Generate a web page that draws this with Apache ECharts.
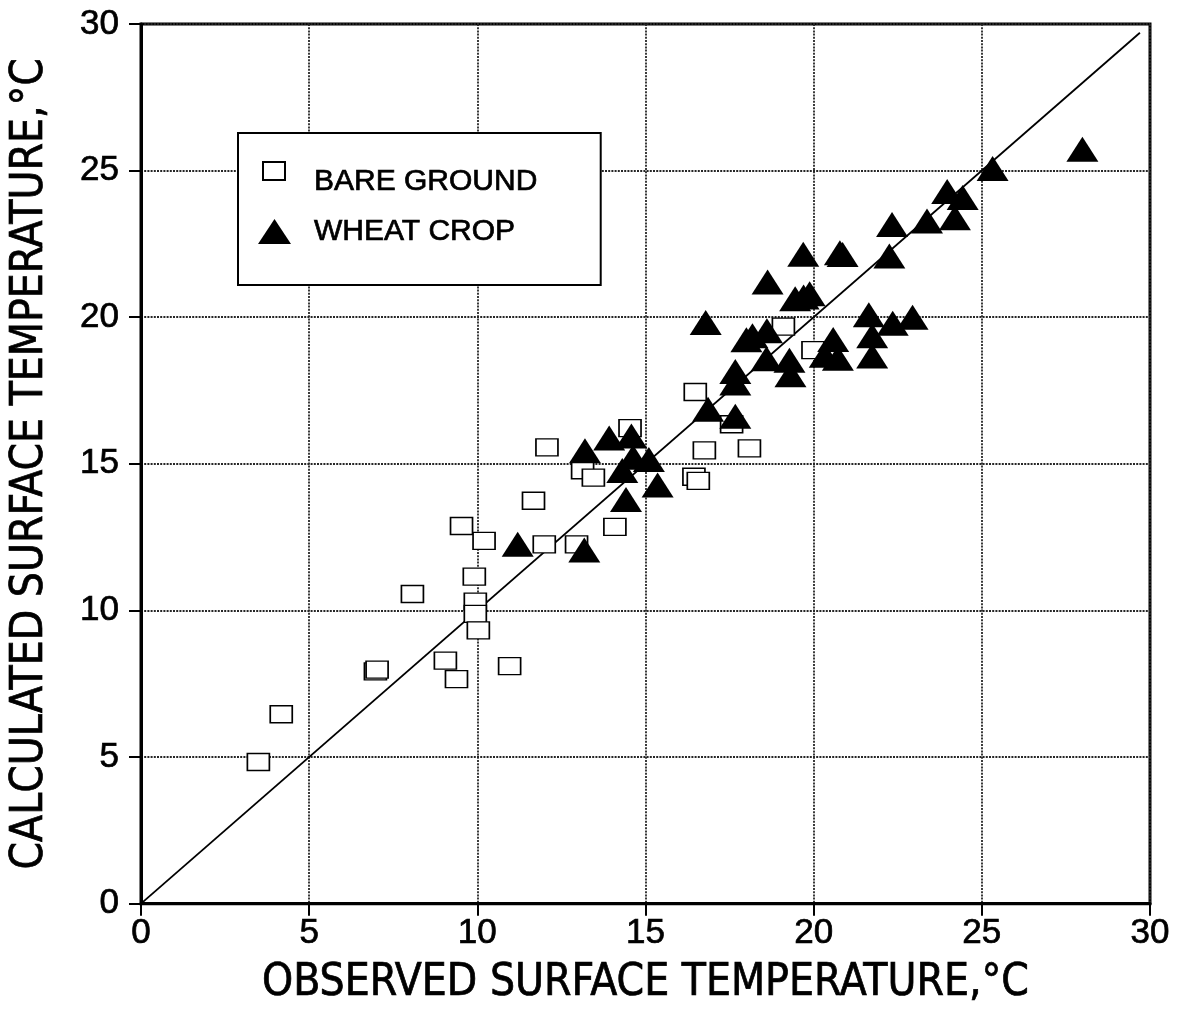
<!DOCTYPE html>
<html>
<head>
<meta charset="utf-8">
<script src="https://cdn.jsdelivr.net/npm/echarts@6/dist/echarts.min.js"></script>
<style>
html,body{margin:0;padding:0;background:#fff;}
#chart{width:1184px;height:1011px;}
</style>
</head>
<body>
<div id="chart"></div>
<script>
// Observed (x) vs calculated (y) surface temperature, °C
const bareGround = [
  [3.49,4.83],[4.17,6.46],[6.97,7.92],[7.02,7.98],[8.07,10.56],[9.05,8.29],[9.38,7.66],
  [9.53,12.88],[9.91,11.15],[9.94,10.3],[9.94,9.88],[10.03,9.32],[10.2,12.37],[10.96,8.1],
  [11.67,13.74],[11.99,12.25],[12.07,15.56],[12.95,12.25],[13.13,14.78],[13.45,14.53],
  [14.09,12.85],[14.54,16.22],[16.44,14.56],[16.57,14.42],[16.48,17.45],[16.75,15.46],
  [17.56,16.35],[18.09,15.53],[19.1,19.68],[19.98,18.88]
];
const wheatCrop = [
  [11.2,12.26],[13.18,12.06],[13.2,15.45],[13.92,15.88],[14.58,15.95],[14.63,15.22],
  [15.1,15.15],[14.31,14.77],[15.36,14.28],[14.42,13.78],[16.79,19.82],[16.86,16.86],
  [17.67,16.62],[17.67,18.15],[17.67,17.76],[18.0,19.23],[18.18,19.37],[18.61,19.54],
  [18.6,18.58],[19.28,18.53],[19.31,18.04],[18.63,21.2],[19.45,20.63],[19.7,20.69],
  [19.88,20.8],[19.69,22.15],[20.78,22.2],[20.86,22.14],[20.58,19.24],[20.33,18.7],
  [20.72,18.6],[21.64,20.08],[22.35,19.79],[22.94,20.0],[21.74,19.37],[21.74,18.68],
  [22.25,22.09],[22.33,23.16],[23.37,23.28],[24.2,23.39],[23.97,24.29],[24.43,24.08],
  [25.32,25.07],[27.99,25.73]
];
const oneToOne = [[0,0],[29.7,29.7]];
const seriesNames = ['BARE GROUND','WHEAT CROP'];
const xAxisTitle = 'OBSERVED SURFACE TEMPERATURE,°C';
const yAxisTitle = 'CALCULATED SURFACE TEMPERATURE,°C';
const axisMin = 0, axisMax = 30, axisStep = 5;

const titleFont = "'Liberation Sans Narrow','Arial Narrow','DejaVu Sans Condensed','Liberation Sans',Arial,sans-serif";
const tickFont = "'Liberation Sans',Arial,Helvetica,sans-serif";
const ink = {color:'#000', textBorderColor:'#000', textBorderWidth:0.7};

const gridLine = {show:true, lineStyle:{color:'#262626', width:1.8, type:[2,1.2]}};

function makeAxis(name, nameGap, pos){
  return {
    type:'value', min:axisMin, max:axisMax, interval:axisStep, position:pos,
    name:name, nameLocation:'middle', nameGap:nameGap,
    nameTextStyle:Object.assign({fontFamily:titleFont, fontSize:44}, ink),
    axisLine:{show:true, onZero:false, lineStyle:{color:'#000', width:3}},
    axisTick:{show:true, inside:false, length:12, lineStyle:{color:'#000', width:2}},
    axisLabel:Object.assign({fontFamily:tickFont, fontSize:35, margin: pos==='left'?22:12}, ink),
    splitLine:gridLine
  };
}

const chart = echarts.init(document.getElementById('chart'), null, {renderer:'canvas'});
chart.setOption({
  backgroundColor:'#fff',
  animation:false,
  grid:{left:141, right:34, top:24, bottom:103, show:true, borderColor:'#000', borderWidth:3, backgroundColor:'transparent'},
  xAxis: makeAxis(xAxisTitle, 58, 'bottom'),
  yAxis: makeAxis(yAxisTitle, 88, 'left'),
  legend:{
    left:238, top:133, orient:'vertical',
    backgroundColor:'#fff', borderColor:'#000', borderWidth:2,
    padding:[25,63,31,19], itemGap:4, itemWidth:51, itemHeight:45,
    textStyle:Object.assign({fontFamily:tickFont, fontSize:30}, ink),
    data:[
      {name:seriesNames[0], icon:'path://M0,0M51,45M5,3L27,3L27,21L5,21Z'},
      {name:seriesNames[1], icon:'path://M0,0M51,45M16.5,10L33,35L0,35Z'}
    ]
  },
  series:[
    {
      name:'1:1', type:'line', data:oneToOne, symbol:'none', silent:true,
      lineStyle:{color:'#000', width:1.8}, z:1
    },
    {
      name:seriesNames[0], type:'scatter', data:bareGround, symbol:'rect', symbolSize:[22,17],
      itemStyle:{color:'#fff', borderColor:'#000', borderWidth:1.5, opacity:1}, z:3
    },
    {
      name:seriesNames[1], type:'scatter', data:wheatCrop, symbol:'triangle', symbolSize:[32,25],
      itemStyle:{color:'#000', borderColor:'#000', borderWidth:0, opacity:1}, z:4
    }
  ]
});
</script>
</body>
</html>
